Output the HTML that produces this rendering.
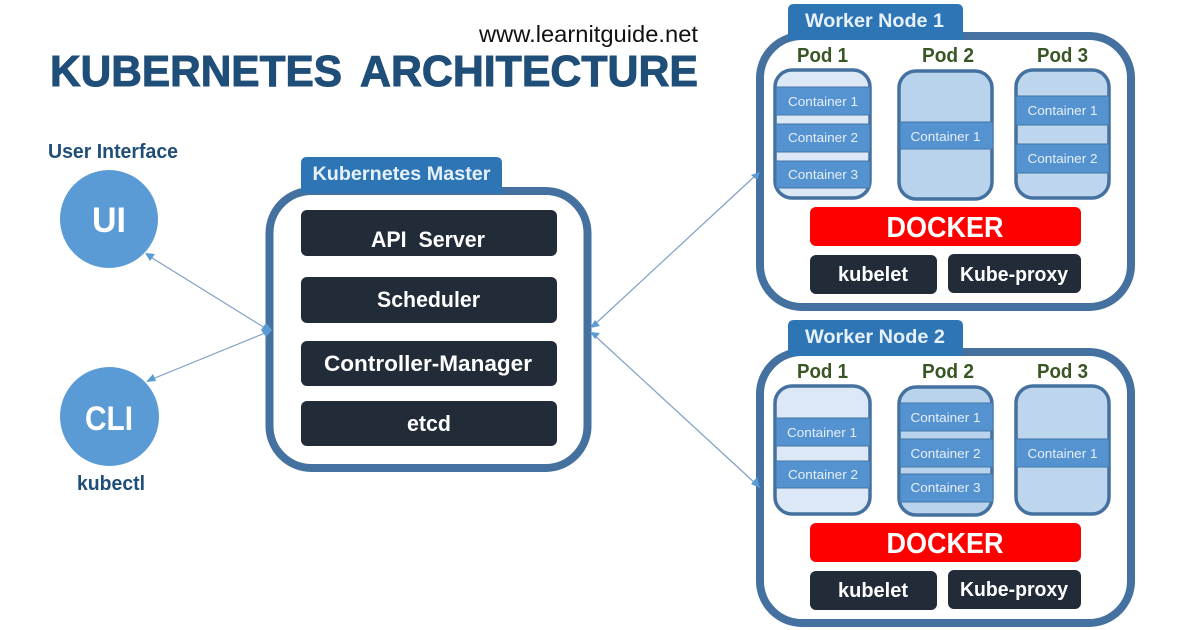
<!DOCTYPE html>
<html><head><meta charset="utf-8"><style>
html,body{margin:0;padding:0;background:#fff;width:1200px;height:630px;overflow:hidden}
svg{display:block}
text{font-family:"Liberation Sans",sans-serif;text-anchor:middle}
.frame{fill:#fff;stroke:#44719f;stroke-width:8}
.tab{fill:#2e75b6}
.tabt{fill:#e6f1fb;font-weight:bold;font-size:19px}
.pod{stroke:#44719f;stroke-width:3.500}
.c{fill:#5592d0;stroke:#4478a8;stroke-width:1}
.ct{fill:#e6f0fa;font-size:13px}
.pl{fill:#375623;font-weight:bold;font-size:20px}
.dk{fill:#222b38}
.w{fill:#fff;font-weight:bold}
.a{stroke:#7f9fc4;stroke-width:1.200;fill:none}
.h{fill:#5b9bd5}
.ti{fill:#1f4e79;stroke:#1f4e79;stroke-width:1;font-weight:bold;font-size:44px}
</style></head><body>
<svg width="1200" height="630" viewBox="0 0 1200 630" xmlns="http://www.w3.org/2000/svg">
<text x="588.500" y="42" font-size="23" fill="#111" textLength="219" lengthAdjust="spacingAndGlyphs">www.learnitguide.net</text>
<text class="ti" x="196" y="86" textLength="292" lengthAdjust="spacingAndGlyphs">KUBERNETES</text>
<text class="ti" x="529" y="86" textLength="338" lengthAdjust="spacingAndGlyphs">ARCHITECTURE</text>

<text x="113" y="158" font-size="20" font-weight="bold" fill="#1f4e79" textLength="130" lengthAdjust="spacingAndGlyphs">User Interface</text>
<ellipse cx="109" cy="219" rx="49" ry="49" fill="#5b9bd5"/>
<text class="w" x="109" y="232" font-size="35" textLength="34" lengthAdjust="spacingAndGlyphs">UI</text>
<ellipse cx="109.500" cy="416.500" rx="49.500" ry="49.500" fill="#5b9bd5"/>
<text class="w" x="109" y="430" font-size="34" textLength="48" lengthAdjust="spacingAndGlyphs">CLI</text>
<text x="111" y="490" font-size="20" font-weight="bold" fill="#1f4e79" textLength="68" lengthAdjust="spacingAndGlyphs">kubectl</text>

<!-- master -->
<rect class="frame" x="269.500" y="191" width="318" height="277" rx="42"/>
<path class="tab" d="M301 193V163q0-6 6-6H496q6 0 6 6V193z"/>
<text class="tabt" x="401.500" y="180" textLength="178" lengthAdjust="spacingAndGlyphs">Kubernetes Master</text>
<rect class="dk" x="301" y="210" width="256" height="46" rx="6"/>
<rect class="dk" x="301" y="277" width="256" height="46" rx="6"/>
<rect class="dk" x="301" y="341" width="256" height="45" rx="6"/>
<rect class="dk" x="301" y="401" width="256" height="45" rx="6"/>
<text class="w" x="428" y="247" font-size="22" textLength="114" lengthAdjust="spacingAndGlyphs">API&#160;&#160;Server</text>
<text class="w" x="428.500" y="307" font-size="22" textLength="103" lengthAdjust="spacingAndGlyphs">Scheduler</text>
<text class="w" x="428" y="371" font-size="22" textLength="208" lengthAdjust="spacingAndGlyphs">Controller-Manager</text>
<text class="w" x="429" y="431" font-size="22" textLength="44" lengthAdjust="spacingAndGlyphs">etcd</text>

<!-- worker 1 -->
<rect class="frame" x="760" y="36" width="371" height="271" rx="42"/>
<path class="tab" d="M788 40V10q0-6 6-6H957q6 0 6 6V40z"/>
<text class="tabt" x="874.500" y="27" textLength="139" lengthAdjust="spacingAndGlyphs">Worker Node 1</text>
<text class="pl" x="822.500" y="62" textLength="51" lengthAdjust="spacingAndGlyphs">Pod 1</text>
<text class="pl" x="948" y="62" textLength="52" lengthAdjust="spacingAndGlyphs">Pod 2</text>
<text class="pl" x="1062.500" y="62" textLength="51" lengthAdjust="spacingAndGlyphs">Pod 3</text>
<rect class="pod" x="775" y="70" width="95" height="128" rx="17" fill="#dce8f5"/>
<rect class="pod" x="899" y="71" width="93" height="128" rx="17" fill="#b9d3ec"/>
<rect class="pod" x="1016" y="70" width="93" height="128" rx="17" fill="#bdd6ee"/>
<rect class="c" x="776" y="87" width="94" height="28"/>
<rect class="c" x="776" y="124" width="94" height="28"/>
<rect class="c" x="776" y="161" width="94" height="27"/>
<rect class="c" x="900" y="122" width="93" height="27"/>
<rect class="c" x="1016" y="96" width="93" height="29"/>
<rect class="c" x="1016" y="144" width="93" height="29"/>
<text class="ct" x="823" y="106" textLength="70" lengthAdjust="spacingAndGlyphs">Container 1</text>
<text class="ct" x="823" y="142" textLength="70" lengthAdjust="spacingAndGlyphs">Container 2</text>
<text class="ct" x="823" y="179" textLength="70" lengthAdjust="spacingAndGlyphs">Container 3</text>
<text class="ct" x="945.500" y="141" textLength="70" lengthAdjust="spacingAndGlyphs">Container 1</text>
<text class="ct" x="1062.500" y="115" textLength="70" lengthAdjust="spacingAndGlyphs">Container 1</text>
<text class="ct" x="1062.500" y="163" textLength="70" lengthAdjust="spacingAndGlyphs">Container 2</text>
<rect x="810" y="207" width="271" height="39" rx="6" fill="#ff0000"/>
<text class="w" x="945" y="237" font-size="29" textLength="117" lengthAdjust="spacingAndGlyphs">DOCKER</text>
<rect class="dk" x="810" y="255" width="127" height="39" rx="6"/>
<rect class="dk" x="948" y="254" width="133" height="39" rx="6"/>
<text class="w" x="873" y="281" font-size="20" textLength="70" lengthAdjust="spacingAndGlyphs">kubelet</text>
<text class="w" x="1014" y="281" font-size="20" textLength="108" lengthAdjust="spacingAndGlyphs">Kube-proxy</text>

<!-- worker 2 -->
<rect class="frame" x="760" y="352" width="371" height="271" rx="42"/>
<path class="tab" d="M788 356V326q0-6 6-6H957q6 0 6 6V356z"/>
<text class="tabt" x="875" y="343" textLength="140" lengthAdjust="spacingAndGlyphs">Worker Node 2</text>
<text class="pl" x="822.500" y="378" textLength="51" lengthAdjust="spacingAndGlyphs">Pod 1</text>
<text class="pl" x="948" y="378" textLength="52" lengthAdjust="spacingAndGlyphs">Pod 2</text>
<text class="pl" x="1062.500" y="378" textLength="51" lengthAdjust="spacingAndGlyphs">Pod 3</text>
<rect class="pod" x="775" y="386" width="95" height="128" rx="17" fill="#dce8f5"/>
<rect class="pod" x="899" y="387" width="93" height="128" rx="17" fill="#b9d3ec"/>
<rect class="pod" x="1016" y="386" width="93" height="128" rx="17" fill="#bdd6ee"/>
<rect class="c" x="776" y="418" width="94" height="28"/>
<rect class="c" x="776" y="461" width="94" height="27"/>
<rect class="c" x="900" y="403" width="93" height="28"/>
<rect class="c" x="900" y="439" width="93" height="28"/>
<rect class="c" x="900" y="474" width="93" height="28"/>
<rect class="c" x="1016" y="439" width="93" height="28"/>
<text class="ct" x="822" y="437" textLength="70" lengthAdjust="spacingAndGlyphs">Container 1</text>
<text class="ct" x="823" y="479" textLength="70" lengthAdjust="spacingAndGlyphs">Container 2</text>
<text class="ct" x="945.500" y="422" textLength="70" lengthAdjust="spacingAndGlyphs">Container 1</text>
<text class="ct" x="945.500" y="458" textLength="70" lengthAdjust="spacingAndGlyphs">Container 2</text>
<text class="ct" x="945.500" y="492" textLength="70" lengthAdjust="spacingAndGlyphs">Container 3</text>
<text class="ct" x="1062.500" y="458" textLength="70" lengthAdjust="spacingAndGlyphs">Container 1</text>
<rect x="810" y="523" width="271" height="39" rx="6" fill="#ff0000"/>
<text class="w" x="945" y="553" font-size="29" textLength="117" lengthAdjust="spacingAndGlyphs">DOCKER</text>
<rect class="dk" x="810" y="571" width="127" height="39" rx="6"/>
<rect class="dk" x="948" y="570" width="133" height="39" rx="6"/>
<text class="w" x="873" y="597" font-size="20" textLength="70" lengthAdjust="spacingAndGlyphs">kubelet</text>
<text class="w" x="1014" y="596" font-size="20" textLength="108" lengthAdjust="spacingAndGlyphs">Kube-proxy</text>

<!-- connectors -->
<line class="a" x1="265" y1="328" x2="149" y2="256"/>
<line class="a" x1="265" y1="333" x2="150" y2="380"/>
<polygon class="h" points="145,253 155,254 150,261"/>
<polygon class="h" points="146,382 153,374 156,381"/>
<polygon class="h" points="266,323 272,330 266,337 261,330"/>
<line class="a" x1="593" y1="326" x2="756" y2="175"/>
<line class="a" x1="593" y1="334" x2="756" y2="484"/>
<polygon class="h" points="590,328 595,320 600,326"/>
<polygon class="h" points="590,332 600,333 595,339"/>
<polygon class="h" points="760,172 757,180 751,175"/>
<polygon class="h" points="760,488 751,484 757,477"/>
</svg>
</body></html>
